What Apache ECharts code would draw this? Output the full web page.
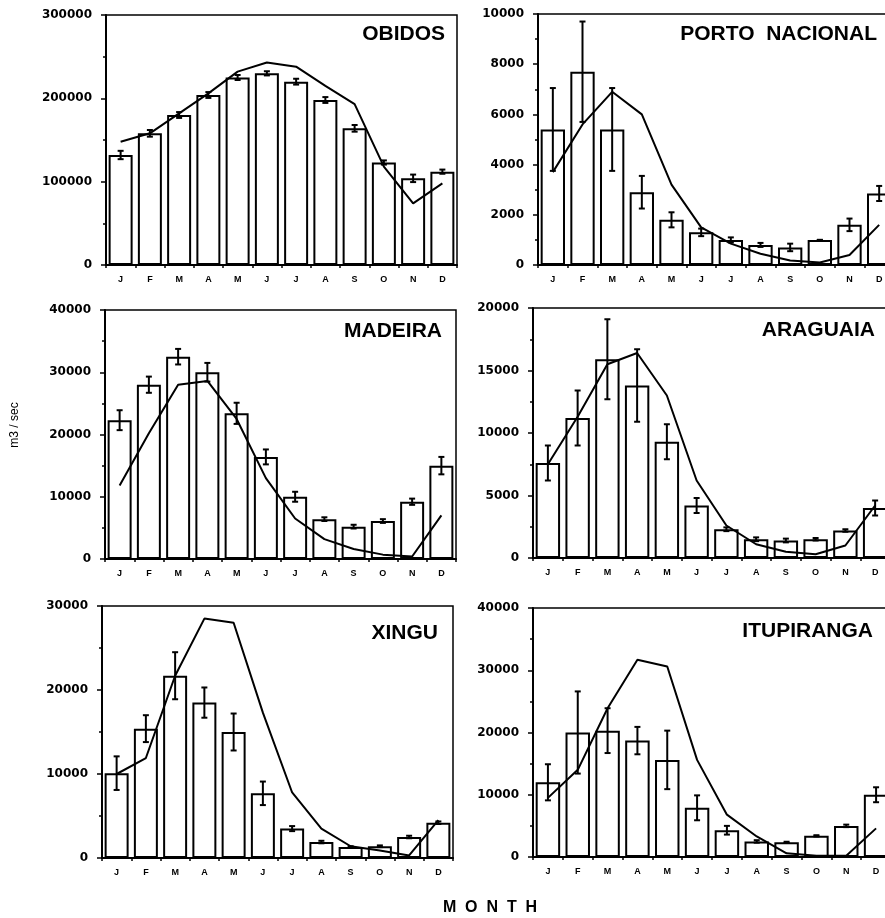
<!DOCTYPE html>
<html>
<head>
<meta charset="utf-8">
<script src="https://cdn.jsdelivr.net/npm/echarts@6/dist/echarts.min.js"></script>
<style>
html, body { margin: 0; padding: 0; background: #fff; }
#chart { width: 885px; height: 918px; }
</style>
</head>
<body>
<div id="chart"></div>
<script>
// month axis
var months = ['J', 'F', 'M', 'A', 'M', 'J', 'J', 'A', 'S', 'O', 'N', 'D']
var stations = ['OBIDOS', 'PORTO  NACIONAL', 'MADEIRA', 'ARAGUAIA', 'XINGU', 'ITUPIRANGA']
var yMax = [300000, 10000, 40000, 20000, 30000, 40000]
var yStep = [100000, 2000, 10000, 5000, 10000, 10000]

// mean discharge (bars), error (+/-), and model line
var obidosMean = [132000, 158000, 180000, 204000, 225000, 230000, 220000, 198000, 164000, 123000, 104000, 112000]
var obidosErr = [5000, 4000, 3500, 3500, 3000, 2500, 3500, 3500, 4000, 2500, 4500, 2500]
var obidosLine = [148000, 158000, 182000, 206000, 232000, 243000, 238000, 215000, 193000, 118000, 74000, 98000]

var portoMean = [5400, 7700, 5400, 2900, 1800, 1300, 1000, 800, 700, 1000, 1600, 2850]
var portoErr = [1650, 2000, 1650, 650, 300, 150, 100, 80, 150, 0, 250, 300]
var portoLine = [3700, 5600, 6900, 6000, 3200, 1500, 850, 450, 180, 100, 400, 1600]

var madeiraMean = [22300, 28000, 32500, 30000, 23400, 16400, 10000, 6400, 5200, 6100, 9200, 15000]
var madeiraErr = [1600, 1300, 1250, 1500, 1700, 1200, 800, 300, 300, 300, 500, 1400]
var madeiraLine = [11800, 20200, 28000, 28600, 22500, 13000, 6500, 3200, 1600, 700, 400, 7000]

var araguaiaMean = [7600, 11200, 15900, 13800, 9300, 4200, 2300, 1500, 1400, 1500, 2200, 4000]
var araguaiaErr = [1400, 2200, 3200, 2900, 1400, 600, 150, 150, 150, 100, 100, 600]
var araguaiaLine = [7500, 11300, 15500, 16400, 13000, 6200, 2600, 1100, 500, 300, 1000, 4200]

var xinguMean = [10100, 15400, 21700, 18500, 15000, 7700, 3500, 1900, 1300, 1400, 2500, 4200]
var xinguErr = [2000, 1600, 2800, 1800, 2200, 1400, 300, 150, 100, 100, 150, 150]
var xinguLine = [10000, 11900, 21700, 28500, 28000, 17300, 7800, 3500, 1400, 900, 300, 4500]

var itupMean = [12000, 20000, 20300, 18700, 15600, 7900, 4300, 2500, 2350, 3400, 5000, 10000]
var itupErr = [2900, 6600, 3600, 2200, 4700, 2000, 700, 200, 100, 100, 200, 1200]
var itupLine = [9500, 14000, 23900, 31700, 30600, 15600, 6800, 3300, 600, 200, 200, 4600]

var means = [obidosMean, portoMean, madeiraMean, araguaiaMean, xinguMean, itupMean]
var errs = [obidosErr, portoErr, madeiraErr, araguaiaErr, xinguErr, itupErr]
var lines = [obidosLine, portoLine, madeiraLine, araguaiaLine, xinguLine, itupLine]

var myChart = echarts.init(document.getElementById('chart'))

// right-hand panels run past the page edge, as in the scan
var grids = [
    { left: 106, top: 15, width: 351, height: 250 },
    { left: 538, top: 14, width: 356, height: 251 },
    { left: 105, top: 310, width: 351, height: 249 },
    { left: 533, top: 308, width: 357, height: 250 },
    { left: 102, top: 606, width: 351, height: 252 },
    { left: 533, top: 608, width: 358, height: 249 }
]
var titlePos = [[445, 34], [877, 34], [442, 331], [875, 330], [438, 633], [873, 631]]

var grid = [], xAxis = [], yAxis = [], series = [], graphic = []
grids.forEach(function (g, i) {
    grid.push(Object.assign({
        show: true, borderColor: '#000', borderWidth: 1.5, backgroundColor: 'transparent',
        containLabel: false, outerBoundsMode: 'none'
    }, g))
    xAxis.push({
        type: 'category',
        gridIndex: i,
        data: months,
        axisLine: { lineStyle: { color: '#000', width: 2 } },
        axisTick: { show: true, length: 3, lineStyle: { color: '#000', width: 1.5 } },
        axisLabel: { color: '#000', fontSize: 9, fontWeight: 'bold', fontFamily: 'Liberation Sans', margin: 10 }
    })
    yAxis.push({
        type: 'value',
        gridIndex: i,
        min: 0,
        max: yMax[i],
        interval: yStep[i],
        splitLine: { show: false },
        axisLine: { show: true, lineStyle: { color: '#000', width: 2 } },
        axisTick: { show: true, length: 5, lineStyle: { color: '#000', width: 1.5 } },
        minorTick: { show: true, splitNumber: 2, length: 3, lineStyle: { color: '#000', width: 1.5 } },
        axisLabel: {
            color: '#000', fontSize: 12, fontWeight: 'bold', fontFamily: 'DejaVu Sans', margin: 14,
            formatter: function (v) { return String(v) }
        }
    })
    series.push({
        type: 'bar',
        xAxisIndex: i,
        yAxisIndex: i,
        barWidth: '82%',
        itemStyle: { color: '#fff', borderColor: '#000', borderWidth: 2 },
        data: means[i],
        z: 2
    })
    var errData = means[i].map(function (m, k) { return [k, m - errs[i][k], m + errs[i][k]] })
    series.push({
        type: 'custom',
        xAxisIndex: i,
        yAxisIndex: i,
        z: 3,
        encode: { x: 0, y: [1, 2] },
        data: errData,
        renderItem: function (params, api) {
            var k = api.value(0)
            var lo = api.coord([k, api.value(1)])
            var hi = api.coord([k, api.value(2)])
            var w = 3
            var st = { stroke: '#000', lineWidth: 2 }
            return {
                type: 'group',
                children: [
                    { type: 'line', shape: { x1: lo[0], y1: lo[1], x2: hi[0], y2: hi[1] }, style: st },
                    { type: 'line', shape: { x1: lo[0] - w, y1: lo[1], x2: lo[0] + w, y2: lo[1] }, style: st },
                    { type: 'line', shape: { x1: hi[0] - w, y1: hi[1], x2: hi[0] + w, y2: hi[1] }, style: st }
                ]
            }
        }
    })
    series.push({
        type: 'line',
        xAxisIndex: i,
        yAxisIndex: i,
        data: lines[i],
        symbol: 'none',
        z: 4,
        lineStyle: { color: '#000', width: 2 }
    })
    graphic.push({
        type: 'text',
        x: titlePos[i][0],
        y: titlePos[i][1],
        style: {
            text: stations[i], fill: '#000', font: 'bold 21px "Liberation Sans"',
            textAlign: 'right', textVerticalAlign: 'middle'
        }
    })
})

graphic.push({
    type: 'text',
    x: 15,
    y: 425,
    rotation: Math.PI / 2,
    style: { text: 'm3 / sec', fill: '#000', font: '12px "Liberation Sans"', textAlign: 'center', textVerticalAlign: 'middle' }
})
graphic.push({
    type: 'text',
    x: 490,
    y: 908,
    style: { text: 'M  O  N  T  H', fill: '#000', font: 'bold 16px "Liberation Sans"', textAlign: 'center', textVerticalAlign: 'middle' }
})

var option = {
    animation: false,
    backgroundColor: '#fff',
    grid: grid,
    xAxis: xAxis,
    yAxis: yAxis,
    series: series,
    graphic: graphic
}
myChart.setOption(option)
</script>
</body>
</html>
